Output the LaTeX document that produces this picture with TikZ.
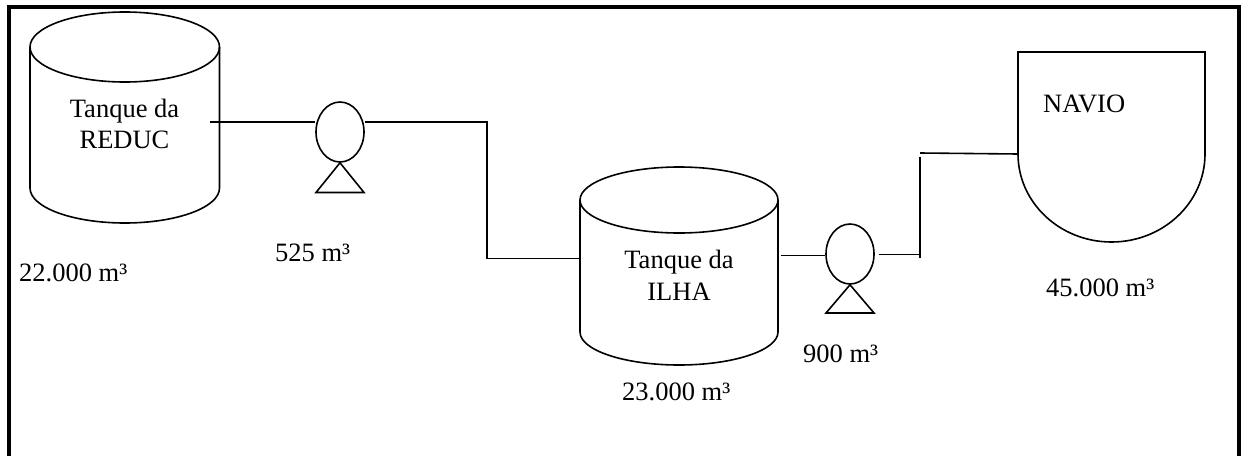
\documentclass[tikz,border=0pt]{standalone}
\usepackage{fontspec}
\setmainfont{Liberation Serif}
\usetikzlibrary{shapes.geometric}
\tikzset{
  line/.style={draw=black,line width=1.6pt},
  frameline/.style={draw=black,line width=4.5pt},
  pump/.style={ellipse,line,inner sep=0pt,minimum width=48pt,minimum height=60pt},
  lbl/.style={anchor=base west,inner sep=0pt,font=\fontsize{26.5}{30}\selectfont},
  lblc/.style={anchor=base,inner sep=0pt,font=\fontsize{26.5}{30}\selectfont}
}
\newcommand{\tank}[5]{% cx, rx, top-centre y, bottom-centre y, ry
  \draw[line] (#1-#2,#3) arc[start angle=180,end angle=-180,x radius=#2,y radius=#5];
  \draw[line] (#1-#2,#3) -- (#1-#2,#4) arc[start angle=180,end angle=360,x radius=#2,y radius=-#5] -- (#1+#2,#3);
}
\begin{document}
\begin{tikzpicture}[x=1pt,y=-1pt]
\useasboundingbox (0,0) rectangle (1241,455);
% frame
\coordinate (fbl) at (9,455);
\coordinate (ftl) at (9,7);
\coordinate (ftr) at (1239,7);
\coordinate (fbr) at (1239,455);
\draw[frameline,line cap=rect] (fbl) -- (ftl) -- (ftr) -- (fbr);
% tanks
\tank{124.75}{94.75}{47}{188}{35}
\tank{679}{99}{200}{332}{33}
% ship
\draw[line] (1018,154) -- (1018,52) -- (1205,52) -- (1205,154)
  arc[start angle=0,end angle=180,x radius=93.5,y radius=88];
% pumps
\node[pump] (p1) at (340,132) {};
\node[pump] (p2) at (850,254) {};
\draw[line,line join=miter] (p1.south) -- (364,192.5) -- (316,192.5) -- cycle;
\draw[line,line join=miter] (p2.south) -- (874,313) -- (826,313) -- cycle;
% connectors
\coordinate (c1) at (210,122);
\coordinate (c2) at (487,122);
\coordinate (c3) at (487,258.5);
\coordinate (c4) at (580,258.5);
\coordinate (c5) at (781,255.5);
\coordinate (c6) at (878.5,254.5);
\coordinate (c7) at (920,254.5);
\coordinate (c8) at (920,258);
\coordinate (c9) at (920,157);
\coordinate (c10) at (920,153);
\coordinate (c11) at (1018,154);
\draw[line] (c1) -- (c1-|p1.west);
\draw[line] (c2-|p1.east) -- (c2) -- (c3) -- (c4);
\draw[line] (c5) -- (c5-|p2.west);
\draw[line] (c6) -- (c7);
\draw[line] (c8) -- (c9);
\draw[line] (c10) -- (c11);
% labels
\node[lblc] (t1a) at (124.5,117) {Tanque da};
\node[lblc] (t1b) at (124.5,148) {REDUC};
\node[lblc] (t2a) at (679,268) {Tanque da};
\node[lblc] (t2b) at (679,300) {ILHA};
\node[lbl] (navio) at (1043,112) {NAVIO};
\node[lbl] (v1) at (19,281) {22.000 m³};
\node[lbl] (v2) at (275,261) {525 m³};
\node[lbl] (v3) at (622,400) {23.000 m³};
\node[lbl] (v4) at (803,362) {900 m³};
\node[lbl] (v5) at (1046,296) {45.000 m³};
\end{tikzpicture}
\end{document}
